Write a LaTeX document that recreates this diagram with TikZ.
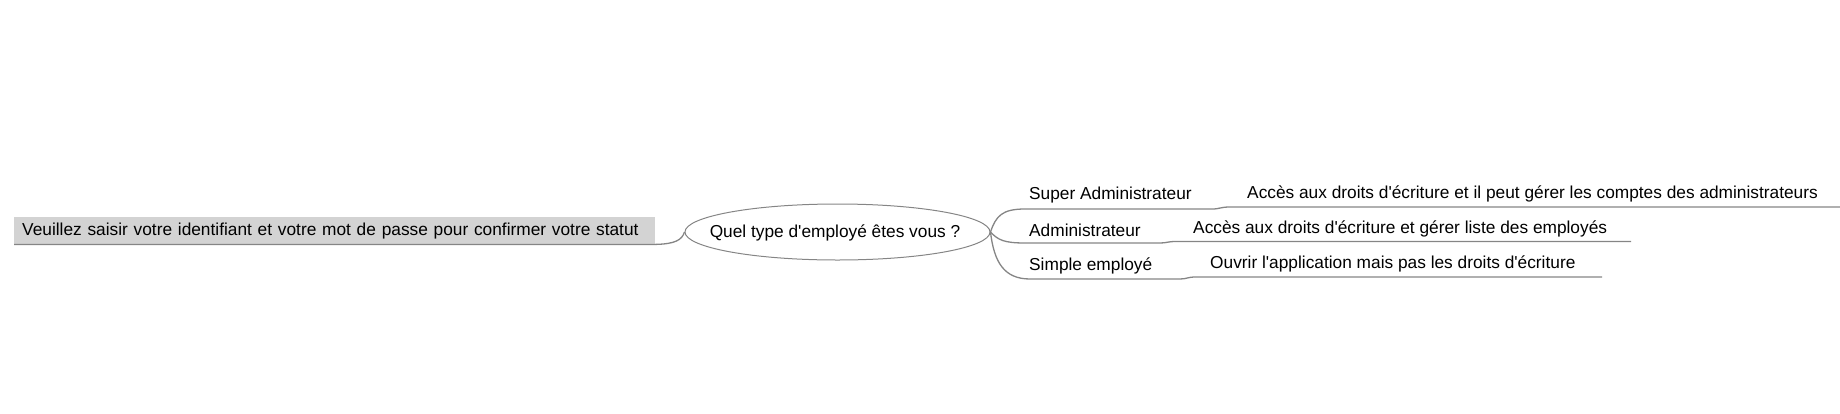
\documentclass[tikz,border=0pt]{standalone}
\usepackage{fontspec}
\setmainfont{Liberation Sans}
\usetikzlibrary{shapes.geometric}
\definecolor{boxgray}{HTML}{D3D3D3}
\definecolor{linegray}{HTML}{858585}
\newcommand{\aq}{\textquotesingle}
\begin{document}
\begin{tikzpicture}[x=1pt,y=-1pt,
  conn/.style={draw=linegray, line width=1.3pt},
  txt/.style={inner sep=0pt, font=\fontsize{17.3}{20}\selectfont},
  lbl/.style={txt, anchor=west},
  rootbox/.style={fill=boxgray, anchor=north west, minimum width=641pt, minimum height=27pt,
    text width=625pt, inner xsep=8pt, inner ysep=0pt, align=left, font=\fontsize{17.3}{20}\selectfont},
  question/.style={draw=linegray, line width=1pt, ellipse, minimum width=305pt, minimum height=56pt,
    inner sep=0pt}]
\useasboundingbox (0,0) rectangle (1840,413);
\node[rootbox] (root) at (14,217) {\raisebox{-1.5pt}{Veuillez saisir votre identifiant et votre mot de passe pour confirmer votre statut}};
\node[question] (q) at (837.5,232) {};
\node[txt] (qt) at (835,233) {Quel type d\aq employé êtes vous ?};
\node[lbl] (sa) at (1029,195.5) {Super Administrateur};
\node[lbl] (ad) at (1029,230.5) {Administrateur};
\node[lbl] (se) at (1029,265.5) {Simple employé};
\node[lbl] (sad) at (1247,193.5) {Accès aux droits d\aq écriture et il peut gérer les comptes des administrateurs};
\node[lbl] (add) at (1193,228.5) {Accès aux droits d\aq écriture et gérer liste des employés};
\node[lbl] (sed) at (1210,263.5) {Ouvrir l\aq application mais pas les droits d\aq écriture};
\coordinate (saEnd) at (1840,207);
\coordinate (adEnd) at (1631,241.5);
\coordinate (seEnd) at (1602,277);
\draw[conn] (root.south west) -- (root.south east) .. controls (675,244) and (682,240) .. (q.west);
\draw[conn] (q.east) .. controls (996,216) and (1002,209) .. (1025,209) -- (1212,209)
  .. controls (1220,209) and (1220,207) .. (1230,207) -- (saEnd);
\draw[conn] (q.east) .. controls (998,240) and (1004,243) .. (1025,243) -- (1160,243)
  .. controls (1167,243) and (1167,241.5) .. (1176,241.5) -- (adEnd);
\draw[conn] (q.east) .. controls (994,262) and (1004,279) .. (1030,279) -- (1180,279)
  .. controls (1187,279) and (1187,277) .. (1196,277) -- (seEnd);
\end{tikzpicture}
\end{document}
